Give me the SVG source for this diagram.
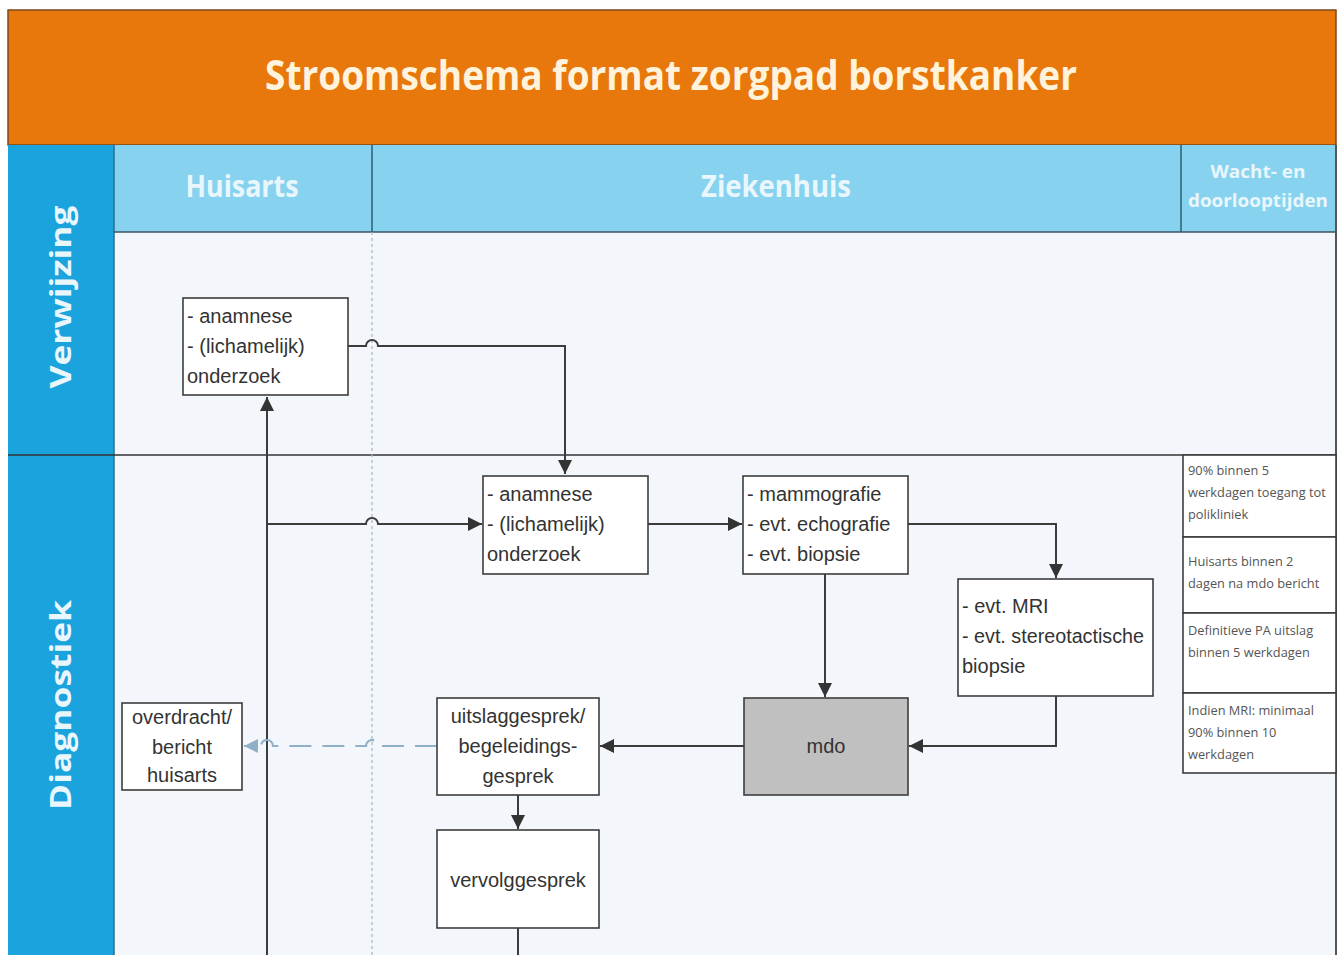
<svg xmlns="http://www.w3.org/2000/svg" width="1342" height="955" viewBox="0 0 1342 955">
<style>
.box{fill:#fff;stroke:#3c3c3c;stroke-width:1.6}
.t{font-family:"Liberation Sans",Arial,sans-serif;font-size:20px;fill:#333}
.tc{font-family:"Liberation Sans",Arial,sans-serif;font-size:20px;fill:#333;text-anchor:middle}
.n{font-family:"Open Sans","Liberation Sans",sans-serif;font-size:12.8px;fill:#555}
.hd{font-family:"Open Sans","Liberation Sans",sans-serif;font-weight:bold;fill:#e9f7fd;text-anchor:middle}
.ln{fill:none;stroke:#3c3c3c;stroke-width:2}
.dash{fill:none;stroke:#8fb0c8;stroke-width:2.2;stroke-dasharray:22 11}
</style>
<defs>
<marker id="a" viewBox="0 0 10 10" refX="10" refY="5" markerWidth="16" markerHeight="14" markerUnits="userSpaceOnUse" orient="auto">
<path d="M0,0 L10,5 L0,10 z" fill="#333"/>
</marker>
<marker id="ab" viewBox="0 0 10 10" refX="10" refY="5" markerWidth="16" markerHeight="14" markerUnits="userSpaceOnUse" orient="auto">
<path d="M0,0 L10,5 L0,10 z" fill="#8fb0c8"/>
</marker>
</defs>
<rect x="0" y="0" width="1342" height="955" fill="#fff"/>
<g id="background">
<rect x="8" y="10" width="1328" height="135" fill="#e8780c" stroke="#7a4a1a" stroke-width="1.5"/>
<text x="671" y="90" class="hd" font-size="42" textLength="812" lengthAdjust="spacingAndGlyphs" style="fill:#fff3dc">Stroomschema format zorgpad borstkanker</text>
<rect x="114" y="232" width="1222" height="723" fill="#f3f7fc"/>
<rect x="114" y="145" width="1222" height="87" fill="#87d3ef"/>
<rect x="8" y="145" width="106" height="810" fill="#1ba3de"/>
<line x1="114" y1="145" x2="114" y2="955" stroke="#2b6f8c" stroke-width="1.5"/>
<line x1="372" y1="145" x2="372" y2="232" stroke="#2b5f73" stroke-width="1.5"/>
<line x1="1181" y1="145" x2="1181" y2="232" stroke="#2b5f73" stroke-width="1.5"/>
<line x1="114" y1="232" x2="1336" y2="232" stroke="#3b5563" stroke-width="1.5"/>
<line x1="8" y1="455" x2="1336" y2="455" stroke="#333" stroke-width="1.5"/>
<line x1="1336" y1="145" x2="1336" y2="955" stroke="#555" stroke-width="2"/>
<line x1="372" y1="232" x2="372" y2="955" stroke="#aab4bd" stroke-width="1.2" stroke-dasharray="3 3"/>
<text x="242" y="197" class="hd" font-size="30" textLength="113" lengthAdjust="spacingAndGlyphs">Huisarts</text>
<text x="776" y="197" class="hd" font-size="30" textLength="150" lengthAdjust="spacingAndGlyphs">Ziekenhuis</text>
<text x="1258" y="178" class="hd" font-size="18" textLength="95" lengthAdjust="spacingAndGlyphs">Wacht- en</text>
<text x="1258" y="207" class="hd" font-size="18" textLength="140" lengthAdjust="spacingAndGlyphs">doorlooptijden</text>
<text transform="translate(71,297) rotate(-90)" class="hd" font-size="28" textLength="183" lengthAdjust="spacingAndGlyphs">Verwijzing</text>
<text transform="translate(71,705) rotate(-90)" class="hd" font-size="28" textLength="210" lengthAdjust="spacingAndGlyphs">Diagnostiek</text>
</g>
<g id="connectors">
<path class="ln" d="M267,955 V397" marker-end="url(#a)"/>
<path class="ln" d="M348,346 H366 a6,6 0 0 1 12,0 H565 V474" marker-end="url(#a)"/>
<path class="ln" d="M267,524 H366 a6,6 0 0 1 12,0 H482" marker-end="url(#a)"/>
<path class="ln" d="M648,524 H742" marker-end="url(#a)"/>
<path class="ln" d="M908,524 H1056 V578" marker-end="url(#a)"/>
<path class="ln" d="M825,574 V697" marker-end="url(#a)"/>
<path class="ln" d="M1056,696 V746 H909" marker-end="url(#a)"/>
<path class="ln" d="M744,746 H600" marker-end="url(#a)"/>
<path class="ln" d="M518,795 V829" marker-end="url(#a)"/>
<path class="ln" d="M518,928 V955"/>
<path class="dash" d="M437,746 H378 a6,6 0 0 0 -12,0 H273 a6,6 0 0 0 -12,0 H244" marker-end="url(#ab)"/>
</g>
<g id="n_huisarts_anamnese">
<rect class="box" x="183" y="298" width="165" height="97"/>
<text class="t" x="187" y="323">- anamnese</text>
<text class="t" x="187" y="353">- (lichamelijk)</text>
<text class="t" x="187" y="383">onderzoek</text>
</g>
<g id="n_zh_anamnese">
<rect class="box" x="483" y="476" width="165" height="98"/>
<text class="t" x="487" y="501">- anamnese</text>
<text class="t" x="487" y="531">- (lichamelijk)</text>
<text class="t" x="487" y="561">onderzoek</text>
</g>
<g id="n_mammografie">
<rect class="box" x="743" y="476" width="165" height="98"/>
<text class="t" x="747" y="501">- mammografie</text>
<text class="t" x="747" y="531">- evt. echografie</text>
<text class="t" x="747" y="561">- evt. biopsie</text>
</g>
<g id="n_mri">
<rect class="box" x="958" y="579" width="195" height="117"/>
<text class="t" x="962" y="613">- evt. MRI</text>
<text class="t" x="962" y="643" textLength="182" lengthAdjust="spacingAndGlyphs">- evt. stereotactische</text>
<text class="t" x="962" y="673">biopsie</text>
</g>
<g id="n_mdo">
<rect x="744" y="698" width="164" height="97" fill="#c0c0c0" stroke="#3c3c3c" stroke-width="1.6"/>
<text class="tc" x="826" y="753">mdo</text>
</g>
<g id="n_uitslag">
<rect class="box" x="437" y="698" width="162" height="97"/>
<text class="tc" x="518" y="723">uitslaggesprek/</text>
<text class="tc" x="518" y="753">begeleidings-</text>
<text class="tc" x="518" y="783">gesprek</text>
</g>
<g id="n_vervolg">
<rect class="box" x="437" y="830" width="162" height="98"/>
<text class="tc" x="518" y="887">vervolggesprek</text>
</g>
<g id="n_overdracht">
<rect class="box" x="122" y="703" width="120" height="87"/>
<text class="tc" x="182" y="724">overdracht/</text>
<text class="tc" x="182" y="754">bericht</text>
<text class="tc" x="182" y="782">huisarts</text>
</g>
<g id="n_wachttijden">
<rect class="box" x="1183" y="455" width="153" height="82"/>
<text class="n" x="1188" y="475">90%  binnen 5</text>
<text class="n" x="1188" y="497">werkdagen toegang tot</text>
<text class="n" x="1188" y="519">polikliniek</text>
<rect class="box" x="1183" y="537" width="153" height="76"/>
<text class="n" x="1188" y="566">Huisarts binnen 2</text>
<text class="n" x="1188" y="588">dagen na mdo bericht</text>
<rect class="box" x="1183" y="613" width="153" height="80"/>
<text class="n" x="1188" y="635">Definitieve PA uitslag</text>
<text class="n" x="1188" y="657">binnen 5 werkdagen</text>
<rect class="box" x="1183" y="693" width="153" height="80"/>
<text class="n" x="1188" y="715">Indien MRI:  minimaal</text>
<text class="n" x="1188" y="737">90% binnen 10</text>
<text class="n" x="1188" y="759">werkdagen</text>
</g>
</svg>
